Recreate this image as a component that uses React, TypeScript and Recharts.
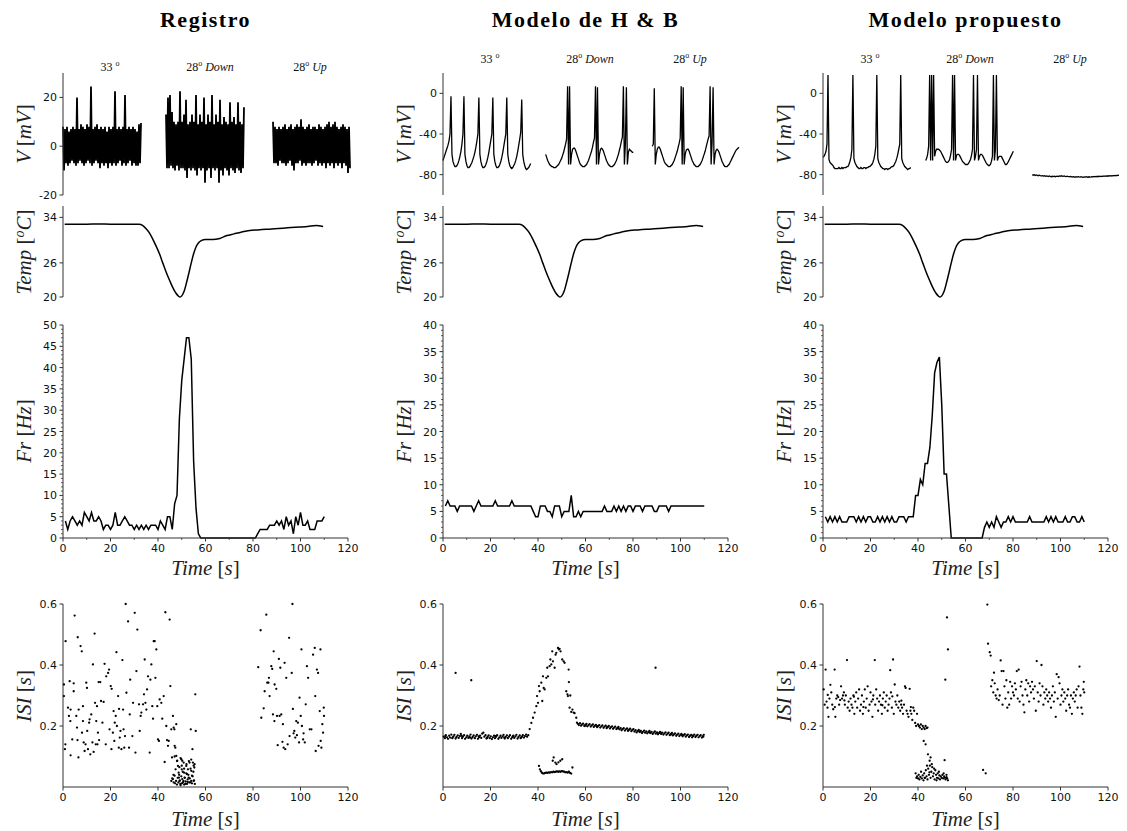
import React from 'react';
import { LineChart, Line, XAxis, YAxis, ScatterChart, Scatter } from 'recharts';

// ---------- datos ----------
// trazas de voltaje: tres ventanas (33º, 28º Down, 28º Up), una muestra por unidad
const traceStarts = [0, 103, 210];

const vRegA = [
  8, -10, 7, -7, 8, -8, 6, -7, 7, -6,
  8, -7, 7, -8, 20, -7, 7, -6, 9, -7,
  8, -8, 7, -7, 9, -6, 8, -7, 24.5, -8,
  7, -7, 8, -6, 9, -7, 7, -9, 8, -7,
  7, -8, 8, -7, 6, -9, 8, -7, 7, -8,
  8, -7, 22.5, -8, 7, -7, 8, -6, 7, -8,
  8, -7, 21, -8, 7, -7, 8, -6, 7, -8,
  8, -7, 7, -8, 6, -8, 9, -7, 9.5,
];
const vRegB = [
  13, -9, 20, -9, 21, -8, 14, -9, 10, -10,
  9, -8, 10, -10, 22.5, -9, 10, -9, 13, -10,
  19, -13, 9, -9, 10, -10, 13, -9, 10, -10,
  21, -12, 9, -9, 13, -10, 10, -9, 20, -15,
  9, -10, 13, -9, 10, -13, 21, -9, 9, -10,
  13, -9, 10, -15, 19, -10, 9, -12, 12, -9,
  10, -10, 9, -12, 18, -9, 10, -10, 12, -11,
  9, -9, 18, -10, 10, -11, 9, -9, 16,
];
const vRegC = [
  10, -7, 8, -7, 7, -8, 8, -6, 7, -7,
  8, -7, 9, -8, 7, -7, 8, -6, 9, -8,
  7, -10, 8, -7, 9, -7, 8, -6, 11, -8,
  8, -7, 7, -8, 8, -7, 9, -7, 7, -8,
  8, -7, 8, -6, 7, -8, 9, -7, 8, -8,
  7, -7, 8, -9, 9, -7, 10, -8, 8, -7,
  9, -9, 10, -7, 8, -8, 7, -7, 8, -9,
  9, -7, 8, -8, 7, -11, 8, -9,
];

const vHbA = [
  -66, -63, -60, -57, -54, -51, -47, -40, -3, -60,
  -67, -70, -72, -72, -71, -69, -66, -62, -57, -50,
  -40, -3, -60, -67, -71, -73, -73, -72, -70, -68,
  -65, -62, -58, -53, -47, -40, -4, -60, -67, -71,
  -73, -73, -72, -70, -67, -63, -58, -52, -46, -40,
  -4, -60, -67, -71, -73, -73, -72, -70, -67, -63,
  -58, -52, -46, -40, -4, -60, -67, -71, -73, -74,
  -73, -71, -69, -66, -62, -57, -51, -45, -38, -6,
  -60, -67, -71, -74, -75, -74, -73, -71, -69,
];
const vHbB = [
  -60, -63, -66, -68, -70, -71, -72, -72, -73, -73,
  -73, -72, -71, -70, -68, -66, -64, -61, -58, -54,
  -50, -45, 7, -70, 7, -70, -60, -55, -54, -54,
  -56, -59, -62, -65, -68, -70, -71, -72, -72, -72,
  -71, -70, -68, -66, -63, -60, -57, -53, -48, -44,
  7, -70, 6, -70, -60, -55, -54, -55, -57, -60,
  -63, -66, -68, -70, -71, -72, -72, -72, -71, -70,
  -68, -66, -63, -60, -56, -52, -47, -43, 7, -70,
  -50, 6, -70, -58, -55, -56, -57, -58, -58,
];
const vHbC = [
  -52, -50, 5, -70, -60, -55, -53, -53, -55, -58,
  -61, -64, -67, -69, -70, -71, -72, -72, -72, -71,
  -70, -68, -66, -63, -60, -57, -53, -49, -44, 7,
  -70, 6, -70, -60, -56, -55, -55, -57, -60, -63,
  -66, -68, -70, -71, -72, -72, -72, -71, -70, -68,
  -66, -63, -60, -57, -53, -49, -45, -42, 7, -70,
  -48, 6, -70, -60, -56, -55, -56, -58, -61, -64,
  -67, -69, -71, -72, -72, -72, -71, -70, -68, -66,
  -64, -62, -60, -58, -56, -55, -54, -53,
];

const vPropA = [
  -63, -62, -60, -57, -50, 18, -65, -68, -69, -70,
  -71, -73, -74, -74, -74, -74, -73, -74, -74, -73,
  -74, -73, -73, -73, -72, -72, -70, -67, -63, -55,
  18, -64, -68, -70, -72, -73, -74, -74, -73, -74,
  -74, -73, -73, -74, -73, -73, -72, -72, -71, -70,
  -68, -65, -60, -52, 18, -64, -68, -70, -72, -73,
  -74, -74, -75, -74, -74, -75, -74, -74, -73, -72,
  -72, -71, -69, -67, -64, -60, -55, -50, 18, -64,
  -68, -70, -72, -73, -74, -75, -74, -74, -73,
];
const vPropB = [
  -66, -64, -60, -52, 18, -66, 18, -66, 18, -62,
  -57, -55, -55, -55, -56, -57, -59, -61, -63, -65,
  -67, -68, -68, -67, -65, -61, -55, 18, -66, 18,
  -66, -61, -60, -60, -61, -63, -65, -67, -68, -69,
  -70, -70, -70, -69, -67, -65, -61, -55, 18, -66,
  -62, -55, 18, -66, -62, -60, -60, -61, -63, -65,
  -67, -69, -70, -71, -71, -70, -67, -62, 18, -66,
  -55, 18, -66, -63, -62, -62, -62, -64, -66, -68,
  -70, -70, -69, -67, -65, -63, -61, -59, -57,
];
const vPropC = [
  -80, -80.5, -80, -80.8, -80.3, -80.6, -81, -80.5, -80.9, -81.2,
  -81, -81.4, -81, -81.6, -81.2, -81.5, -81.8, -81.3, -81.7, -82,
  -81.6, -81.9, -81.5, -82, -81.7, -81.4, -81.8, -81.2, -81.6, -81.1,
  -81.4, -81.7, -81.2, -81.6, -81.9, -81.5, -81.8, -82.1, -81.7, -82,
  -82.3, -81.9, -82.2, -82.5, -82, -82.3, -81.9, -82.2, -82.4, -82,
  -82.3, -82.6, -82.2, -82.4, -82, -82.3, -82.5, -82.1, -82.4, -82.2,
  -81.9, -82.2, -81.8, -82.1, -81.7, -82, -81.6, -81.9, -81.5, -81.8,
  -81.4, -81.7, -81.3, -81.6, -81.2, -81.5, -81.1, -81.4, -81, -81.3,
  -80.9, -81.2, -80.8, -81.1, -80.7, -81, -80.6, -80.8,
];

// temperatura [s, ºC] (misma rampa en las tres columnas)
const tempCurve: [number, number][] = [
  [0.7, 32.8], [5, 32.8], [10, 32.8], [15, 32.85], [20, 32.8], [25, 32.8], [30, 32.8], [32, 32.8],
  [33.5, 32.6], [35, 32], [36.5, 31.2], [38, 30], [40.7, 27.5], [42, 26], [43.5, 24.3], [45, 22.8],
  [46.3, 21.6], [47.5, 20.7], [48.5, 20.2], [49.3, 20], [50, 20.2], [51, 21], [52, 22.5], [53, 24.2],
  [54, 26], [55, 27.6], [56, 28.8], [57, 29.5], [58.2, 29.9], [60, 30.1], [63, 30.1], [66, 30.3],
  [69, 30.8], [72, 31.1], [75, 31.4], [78.6, 31.7], [82, 31.8], [85.6, 31.9], [89, 32], [92.6, 32.1],
  [96, 32.2], [99.6, 32.3], [103, 32.4], [106.7, 32.55], [108.5, 32.5], [109.5, 32.4],
];

// frecuencia de disparo, un valor por segundo (t = 1..110)
const frSeconds = Array.from({ length: 110 }, (_, i) => i + 1);
const frReg = [
  4, 2, 4, 5, 4, 3, 4, 3, 6, 5,
  4, 6, 4, 4, 5, 4, 2, 3, 3, 2,
  3, 6, 3, 3, 4, 5, 4, 3, 3, 2,
  3, 2, 3, 2, 3, 2, 3, 3, 3, 2,
  4, 3, 2, 5, 5, 2, 8, 10, 28, 37,
  42, 47, 47, 42, 18, 7, 1, 0, 0, 0,
  0, 0, 0, 0, 0, 0, 0, 0, 0, 0,
  0, 0, 0, 0, 0, 0, 0, 0, 0, 0,
  0, 1, 2, 2, 2, 2, 3, 3, 3, 4,
  3, 4, 2, 5, 3, 4, 1, 5, 3, 6,
  3, 3, 4, 2, 2, 2, 4, 4, 4, 5,
];
const frHb = [
  6, 7, 6, 6, 6, 5, 6, 6, 6, 6,
  6, 6, 5, 6, 7, 6, 6, 6, 6, 6,
  6, 7, 6, 6, 6, 6, 6, 6, 7, 6,
  6, 6, 6, 6, 6, 6, 6, 5, 4, 4,
  6, 6, 6, 5, 5, 4, 6, 6, 6, 4,
  5, 5, 5, 8, 4, 4, 5, 4, 5, 5,
  5, 5, 5, 5, 5, 5, 5, 6, 5, 5,
  5, 6, 5, 6, 5, 6, 5, 6, 6, 5,
  6, 6, 6, 5, 6, 6, 6, 6, 5, 5,
  6, 6, 6, 6, 5, 6, 6, 6, 6, 6,
  6, 6, 6, 6, 6, 6, 6, 6, 6, 6,
];
const frProp = [
  4, 3, 4, 3, 4, 3, 4, 3, 3, 3,
  4, 4, 4, 3, 4, 3, 4, 3, 4, 4,
  3, 3, 4, 3, 4, 3, 4, 3, 4, 3,
  3, 4, 4, 4, 3, 4, 4, 4, 8, 8,
  11, 10, 14, 14, 17, 23, 31, 33, 34, 25,
  12, 12, 6, 0, 0, 0, 0, 0, 0, 0,
  0, 0, 0, 0, 0, 0, 0, 2, 3, 2,
  3, 2, 4, 3, 2, 3, 3, 4, 3, 4,
  3, 3, 3, 3, 3, 3, 4, 3, 3, 3,
  3, 3, 3, 4, 3, 4, 3, 4, 3, 3,
  3, 4, 3, 3, 4, 4, 3, 3, 4, 3,
];

// intervalos entre espigas [s, ISI]
const isiReg: [number, number][] = [
  [0.4, 0.336], [0.4, 0.298], [1.1, 0.478], [1.0, 0.14], [0.8, 0.124], [2.1, 0.26], [2.5, 0.233], [2.8, 0.347],
  [3.1, 0.216], [3.2, 0.254], [3.2, 0.104], [3.9, 0.156], [4.5, 0.314], [4.5, 0.34], [4.9, 0.562], [5.6, 0.233],
  [5.9, 0.195], [6.1, 0.154], [6.5, 0.097], [6.2, 0.491], [6.6, 0.254], [7.4, 0.462], [7.9, 0.445], [8.0, 0.178],
  [8.4, 0.216], [8.4, 0.265], [8.7, 0.146], [9.1, 0.118], [9.5, 0.14], [9.8, 0.342], [10.1, 0.325], [10.2, 0.184],
  [10.5, 0.124], [11.0, 0.211], [11.2, 0.222], [11.5, 0.107], [11.9, 0.238], [12.4, 0.146], [12.6, 0.402],
  [12.9, 0.115], [13.3, 0.503], [13.5, 0.276], [13.8, 0.14], [14.0, 0.216], [14.3, 0.265], [14.5, 0.14],
  [14.7, 0.178], [15.0, 0.344], [15.2, 0.154], [15.7, 0.344], [16.0, 0.282], [16.6, 0.211], [17.1, 0.279],
  [17.5, 0.404], [18.0, 0.14], [18.2, 0.363], [19.0, 0.374], [19.4, 0.385], [19.6, 0.189], [20.1, 0.331],
  [20.4, 0.124], [20.5, 0.322], [21.0, 0.178], [21.3, 0.249], [21.6, 0.151], [21.8, 0.211], [22.2, 0.233],
  [22.5, 0.442], [22.7, 0.2], [23.2, 0.298], [23.5, 0.129], [23.6, 0.256], [23.9, 0.162], [24.2, 0.184],
  [24.6, 0.124], [25.0, 0.416], [25.3, 0.254], [25.5, 0.189], [25.8, 0.129], [26.1, 0.167], [26.4, 0.6],
  [26.7, 0.309], [27.4, 0.543], [27.8, 0.129], [28.1, 0.238], [28.3, 0.352], [29.2, 0.167], [29.5, 0.276],
  [30.2, 0.571], [30.5, 0.113], [30.9, 0.38], [31.3, 0.516], [32.0, 0.271], [32.3, 0.184], [32.7, 0.233],
  [33.0, 0.244], [33.7, 0.271], [34.1, 0.304], [34.4, 0.418], [34.7, 0.276], [35.1, 0.254], [35.4, 0.32],
  [35.8, 0.363], [36.5, 0.113], [36.8, 0.352], [37.2, 0.402], [37.6, 0.265], [37.9, 0.224], [38.2, 0.478],
  [38.6, 0.478], [38.9, 0.358], [39.3, 0.451], [39.7, 0.265], [40.0, 0.156], [40.4, 0.151], [40.7, 0.287],
  [41.4, 0.276], [41.8, 0.224], [42.4, 0.298], [42.8, 0.082], [43.1, 0.573], [43.5, 0.2], [43.8, 0.154],
  [44.2, 0.135], [44.5, 0.151], [44.9, 0.549], [45.2, 0.331], [45.6, 0.189], [45.9, 0.097], [46.3, 0.233],
  [46.6, 0.195], [46.9, 0.189], [47.0, 0.135], [47.3, 0.129], [47.7, 0.206], [53.8, 0.189], [55.7, 0.304],
  [55.9, 0.184], [54.5, 0.124],
  [45.6, 0.02], [46.3, 0.026], [46.6, 0.015], [47.0, 0.037], [47.4, 0.058], [47.7, 0.102], [48.1, 0.086],
  [48.4, 0.069], [48.7, 0.047], [48.8, 0.031], [49.1, 0.02], [49.4, 0.01], [49.8, 0.091], [50.0, 0.058],
  [50.2, 0.026], [50.5, 0.015], [50.8, 0.08], [51.0, 0.047], [51.2, 0.031], [51.5, 0.01], [51.9, 0.069],
  [52.2, 0.042], [52.4, 0.017], [52.6, 0.058], [52.9, 0.031], [53.3, 0.08], [53.6, 0.015], [54.0, 0.053],
  [54.3, 0.037], [54.7, 0.08], [55.0, 0.02], [55.3, 0.064], [55.4, 0.075], [50.2, 0.086],
  [47.2, 0.012], [47.6, 0.02], [48.0, 0.008], [48.3, 0.03], [48.6, 0.015], [48.9, 0.04], [49.2, 0.022],
  [49.5, 0.006], [49.8, 0.035], [50.1, 0.012], [50.4, 0.05], [50.7, 0.02], [51.0, 0.008], [51.3, 0.03],
  [51.6, 0.018], [51.9, 0.045], [52.2, 0.01], [52.5, 0.025], [52.8, 0.04], [53.1, 0.015], [53.4, 0.028],
  [53.7, 0.06], [54.0, 0.02], [54.3, 0.012], [54.6, 0.035], [54.9, 0.05], [55.2, 0.022], [55.5, 0.01],
  [49.0, 0.065], [50.0, 0.07], [51.0, 0.06], [52.0, 0.075], [53.0, 0.085], [54.0, 0.09], [55.0, 0.07],
  [48.0, 0.085], [47.0, 0.1], [49.5, 0.095], [46.5, 0.04], [46.0, 0.028],
  [82.2, 0.393], [83.2, 0.514], [83.5, 0.227], [84.5, 0.258], [84.9, 0.314], [85.6, 0.565], [86.0, 0.342],
  [86.5, 0.342], [86.7, 0.358], [87.0, 0.298], [87.7, 0.396], [88.1, 0.387], [88.4, 0.238], [88.7, 0.445],
  [89.0, 0.216], [89.1, 0.336], [89.8, 0.322], [90.1, 0.233], [90.4, 0.137], [90.9, 0.42], [91.2, 0.233],
  [91.5, 0.391], [91.9, 0.238], [92.4, 0.148], [92.6, 0.206], [92.9, 0.129], [93.3, 0.407], [93.6, 0.124],
  [94.0, 0.358], [94.6, 0.14], [95.2, 0.489], [95.4, 0.167], [96.3, 0.374], [96.6, 0.6], [96.8, 0.256],
  [97.1, 0.176], [97.4, 0.184], [97.8, 0.162], [98.2, 0.216], [98.5, 0.17], [98.9, 0.211], [99.4, 0.146],
  [99.6, 0.293], [100.1, 0.233], [100.4, 0.451], [100.6, 0.2], [101.1, 0.156], [101.3, 0.176], [101.8, 0.146],
  [102.2, 0.271], [102.7, 0.396], [103.2, 0.358], [103.9, 0.189], [104.6, 0.189], [105.3, 0.434], [106.0, 0.456],
  [106.2, 0.298], [106.4, 0.118], [106.9, 0.385], [107.4, 0.374], [107.6, 0.135], [108.1, 0.249], [108.4, 0.451],
  [108.5, 0.151], [108.8, 0.129], [109.2, 0.206], [109.5, 0.178], [109.8, 0.26], [109.9, 0.233],
];

const isiHb: [number, number][] = [
  [0.3, 0.165], [0.8, 0.16], [1.2, 0.17], [1.7, 0.163], [2.1, 0.158], [2.6, 0.168], [3.0, 0.162], [3.5, 0.172],
  [3.9, 0.16], [4.4, 0.166], [4.8, 0.171], [5.3, 0.159], [5.7, 0.164], [6.2, 0.169], [6.6, 0.161], [7.1, 0.167],
  [7.5, 0.174], [8.0, 0.16], [8.4, 0.165], [8.9, 0.17], [9.3, 0.158], [9.8, 0.163], [10.2, 0.168], [10.7, 0.161],
  [11.1, 0.166], [11.6, 0.172], [12.0, 0.159], [12.5, 0.164], [12.9, 0.169], [13.4, 0.16], [13.8, 0.166],
  [14.3, 0.171], [14.7, 0.158], [15.2, 0.163], [15.6, 0.168], [16.1, 0.161], [16.5, 0.175], [17.0, 0.178],
  [17.4, 0.165], [17.9, 0.17], [18.3, 0.159], [18.8, 0.164], [19.2, 0.169], [19.7, 0.16], [20.1, 0.166],
  [20.6, 0.157], [21.0, 0.163], [21.5, 0.168], [21.9, 0.16], [22.4, 0.165], [22.8, 0.17], [23.3, 0.158],
  [23.7, 0.163], [24.2, 0.168], [24.6, 0.161], [25.1, 0.166], [25.5, 0.171], [26.0, 0.159], [26.4, 0.164],
  [26.9, 0.169], [27.3, 0.16], [27.8, 0.165], [28.2, 0.17], [28.7, 0.158], [29.1, 0.163], [29.6, 0.168],
  [30.0, 0.161], [30.5, 0.166], [30.9, 0.171], [31.4, 0.159], [31.8, 0.164], [32.3, 0.169], [32.7, 0.16],
  [33.2, 0.165], [33.6, 0.17], [34.1, 0.162], [34.5, 0.167], [35.0, 0.172], [35.4, 0.165], [35.9, 0.17],
  [1.0, 0.167], [4.1, 0.163], [7.8, 0.168], [11.4, 0.162], [15.0, 0.166], [18.6, 0.161], [22.1, 0.167],
  [25.8, 0.162], [29.4, 0.166], [33.0, 0.163],
  [36.5, 0.19], [37.2, 0.21], [37.9, 0.227], [38.6, 0.244], [39.3, 0.265], [39.6, 0.298], [40.0, 0.276],
  [40.4, 0.331], [40.7, 0.314], [41.4, 0.342], [41.8, 0.282], [42.1, 0.363], [42.4, 0.325], [42.8, 0.32],
  [43.5, 0.358], [43.9, 0.391], [44.2, 0.363], [44.9, 0.396], [45.2, 0.418], [45.6, 0.402], [46.0, 0.445],
  [46.3, 0.412], [47.0, 0.391], [47.4, 0.434], [47.7, 0.44], [48.4, 0.456], [48.8, 0.451], [49.1, 0.453],
  [49.5, 0.445], [50.2, 0.418], [50.8, 0.412], [51.2, 0.407], [51.9, 0.314], [52.4, 0.304], [52.9, 0.385],
  [53.0, 0.344], [52.6, 0.298], [53.6, 0.3], [53.3, 0.26], [54.0, 0.246], [54.5, 0.254], [55.0, 0.244],
  [55.4, 0.242], [56.1, 0.227], [56.4, 0.211],
  [56.8, 0.207], [57.2, 0.203], [57.7, 0.209], [58.1, 0.201], [58.6, 0.205], [59.0, 0.208], [59.5, 0.2],
  [59.9, 0.204], [60.4, 0.207], [60.8, 0.199], [61.3, 0.203], [61.7, 0.206], [62.2, 0.198], [62.6, 0.202],
  [63.1, 0.205], [63.5, 0.197], [64.0, 0.201], [64.4, 0.204], [64.9, 0.196], [65.3, 0.2], [65.8, 0.203],
  [66.2, 0.195], [66.7, 0.199], [67.1, 0.202], [67.6, 0.194], [68.0, 0.198], [68.5, 0.201], [68.9, 0.193],
  [69.4, 0.197], [69.8, 0.2], [70.3, 0.192], [70.7, 0.196], [71.2, 0.199], [71.6, 0.191], [72.1, 0.195],
  [72.5, 0.198], [73.0, 0.19], [73.4, 0.194], [73.9, 0.197], [74.3, 0.189], [74.8, 0.193], [75.2, 0.186],
  [75.7, 0.19], [76.1, 0.193], [76.6, 0.185], [77.0, 0.189], [77.5, 0.192], [77.9, 0.184], [78.4, 0.188],
  [78.8, 0.191], [79.3, 0.183], [79.7, 0.187], [80.2, 0.19], [80.6, 0.182], [81.1, 0.186], [81.5, 0.179],
  [82.0, 0.183], [82.4, 0.187], [82.9, 0.18], [83.3, 0.184], [83.8, 0.177], [84.2, 0.181], [84.7, 0.185],
  [85.1, 0.178], [85.6, 0.182], [86.0, 0.176], [86.5, 0.18], [86.9, 0.184], [87.4, 0.177], [87.8, 0.181],
  [88.3, 0.174], [88.7, 0.178], [89.2, 0.182], [89.6, 0.175], [90.1, 0.179], [90.5, 0.173], [91.0, 0.177],
  [91.4, 0.181], [91.9, 0.174], [92.3, 0.178], [92.8, 0.172], [93.2, 0.176], [93.7, 0.179], [94.1, 0.171],
  [94.6, 0.175], [95.0, 0.178], [95.5, 0.17], [95.9, 0.174], [96.4, 0.177], [96.8, 0.169], [97.3, 0.173],
  [97.7, 0.176], [98.2, 0.168], [98.6, 0.172], [99.1, 0.175], [99.5, 0.167], [100.0, 0.171], [100.4, 0.174],
  [100.9, 0.166], [101.3, 0.17], [101.8, 0.173], [102.2, 0.165], [102.7, 0.169], [103.1, 0.172], [103.6, 0.164],
  [104.0, 0.168], [104.5, 0.171], [104.9, 0.163], [105.4, 0.167], [105.8, 0.172], [106.3, 0.164], [106.7, 0.168],
  [107.2, 0.171], [107.6, 0.163], [108.1, 0.167], [108.5, 0.17], [109.0, 0.162], [109.4, 0.166], [109.8, 0.171],
  [60.1, 0.201], [64.7, 0.199], [69.1, 0.196], [73.7, 0.192], [78.1, 0.187], [82.7, 0.182], [87.1, 0.178],
  [91.7, 0.176], [96.1, 0.173], [100.7, 0.17], [105.1, 0.168], [109.6, 0.165],
  [40.4, 0.069], [40.8, 0.058], [41.2, 0.052], [41.6, 0.047], [42.0, 0.045], [42.5, 0.044], [43.0, 0.046],
  [43.5, 0.047], [44.0, 0.046], [44.5, 0.048], [45.0, 0.047], [45.5, 0.049], [46.0, 0.048], [46.5, 0.05],
  [47.0, 0.049], [47.5, 0.05], [48.0, 0.051], [48.5, 0.05], [49.0, 0.051], [49.5, 0.05], [50.0, 0.052],
  [50.5, 0.051], [51.0, 0.05], [51.5, 0.048], [52.0, 0.049], [52.5, 0.047], [53.0, 0.05], [53.5, 0.046],
  [54.0, 0.044], [54.5, 0.064], [46.6, 0.097], [46.2, 0.086], [47.3, 0.08], [47.8, 0.075], [48.6, 0.081],
  [49.4, 0.086], [50.2, 0.091],
  [5.3, 0.374], [11.9, 0.35], [89.5, 0.391],
];

const isiProp: [number, number][] = [
  [0.3, 0.32], [0.7, 0.27], [1.1, 0.385], [1.5, 0.28], [1.9, 0.26], [2.3, 0.23], [2.7, 0.29], [3.1, 0.335],
  [3.5, 0.31], [3.9, 0.27], [4.3, 0.255], [4.9, 0.385], [5.2, 0.23], [5.6, 0.29], [6.0, 0.3], [6.4, 0.295],
  [6.8, 0.27], [7.2, 0.285], [7.6, 0.33], [8.0, 0.29], [8.4, 0.3], [8.8, 0.31], [9.2, 0.27], [9.6, 0.3],
  [10.1, 0.416], [10.4, 0.26], [10.8, 0.28], [11.2, 0.25], [11.6, 0.29], [12.0, 0.27], [12.4, 0.26], [12.8, 0.3],
  [13.2, 0.24], [13.6, 0.28], [14.0, 0.31], [14.4, 0.26], [14.8, 0.29], [15.2, 0.32], [15.6, 0.25], [16.0, 0.27],
  [16.4, 0.3], [16.8, 0.24], [17.2, 0.28], [17.6, 0.32], [18.0, 0.26], [18.4, 0.29], [18.8, 0.33], [19.2, 0.25],
  [19.6, 0.27], [20.0, 0.31], [20.4, 0.28], [20.8, 0.23], [21.2, 0.3], [21.8, 0.416], [22.0, 0.27], [22.4, 0.32],
  [22.8, 0.29], [23.2, 0.25], [23.6, 0.28], [24.0, 0.3], [24.4, 0.27], [24.8, 0.24], [25.2, 0.29], [25.6, 0.31],
  [26.0, 0.26], [26.4, 0.28], [26.8, 0.3], [27.2, 0.25], [27.6, 0.27], [28.0, 0.29], [28.3, 0.383], [28.6, 0.31],
  [29.0, 0.26], [29.5, 0.418], [29.8, 0.24], [30.2, 0.336], [30.5, 0.28], [30.9, 0.27], [31.3, 0.3], [31.7, 0.26],
  [32.1, 0.28], [32.5, 0.25], [32.9, 0.27], [33.3, 0.26], [33.7, 0.24], [34.1, 0.27], [34.5, 0.33], [34.8, 0.325],
  [35.2, 0.25], [35.6, 0.24], [36.0, 0.23], [36.5, 0.322], [36.8, 0.25], [37.2, 0.24], [37.6, 0.22], [38.0, 0.26],
  [38.4, 0.25], [38.8, 0.21], [39.2, 0.2], [39.6, 0.24], [40.0, 0.205], [40.4, 0.2], [40.8, 0.195], [41.2, 0.205],
  [41.6, 0.19], [42.0, 0.2], [42.4, 0.195], [42.8, 0.19], [43.2, 0.2], [43.6, 0.193], [44.0, 0.195],
  [2.0, 0.302], [5.0, 0.262], [9.0, 0.284], [13.0, 0.296], [17.0, 0.262], [21.0, 0.287], [25.0, 0.268],
  [29.2, 0.297], [33.0, 0.283], [37.0, 0.262],
  [42.4, 0.151], [43.2, 0.14], [44.2, 0.107], [44.9, 0.086], [45.3, 0.097],
  [39.0, 0.045], [39.3, 0.03], [39.6, 0.035], [40.0, 0.028], [40.3, 0.04], [40.6, 0.025], [41.0, 0.033],
  [41.3, 0.05], [41.6, 0.028], [42.0, 0.038], [42.3, 0.022], [42.6, 0.045], [43.0, 0.03], [43.3, 0.055],
  [43.6, 0.035], [44.0, 0.025], [44.3, 0.06], [44.6, 0.04], [45.0, 0.07], [45.3, 0.03], [45.6, 0.05],
  [46.0, 0.065], [46.3, 0.035], [46.6, 0.045], [47.0, 0.025], [47.3, 0.055], [47.6, 0.04], [48.0, 0.03],
  [48.3, 0.045], [48.6, 0.028], [49.0, 0.038], [49.3, 0.025], [49.6, 0.035], [50.0, 0.03], [50.3, 0.04],
  [50.6, 0.028], [51.0, 0.035], [51.3, 0.03], [51.6, 0.025], [52.0, 0.032], [52.3, 0.028], [52.6, 0.022],
  [43.8, 0.07], [45.8, 0.075], [44.8, 0.048], [46.8, 0.06], [48.8, 0.05], [50.8, 0.045], [52.0, 0.04],
  [42.8, 0.03], [47.8, 0.022],
  [51.2, 0.088], [51.5, 0.352], [52.2, 0.556], [52.6, 0.451], [67.4, 0.056], [68.5, 0.045], [69.2, 0.598],
  [69.5, 0.47], [70.2, 0.442], [70.6, 0.431],
  [70.8, 0.33], [71.3, 0.35], [71.7, 0.31], [72.0, 0.375], [72.3, 0.34], [72.7, 0.3], [73.1, 0.29], [73.5, 0.32],
  [74.0, 0.285], [74.4, 0.3], [74.8, 0.415], [75.2, 0.38], [75.6, 0.27], [76.0, 0.38], [76.4, 0.33], [76.8, 0.29],
  [77.2, 0.35], [77.6, 0.26], [78.0, 0.31], [78.4, 0.27], [78.8, 0.345], [79.2, 0.29], [79.6, 0.33], [80.0, 0.31],
  [80.4, 0.3], [80.8, 0.34], [81.2, 0.32], [81.6, 0.38], [82.0, 0.29], [82.4, 0.385], [82.8, 0.28], [83.2, 0.33],
  [83.6, 0.345], [84.0, 0.3], [84.4, 0.27], [84.8, 0.245], [85.2, 0.32], [85.6, 0.35], [86.0, 0.3], [86.4, 0.34],
  [86.8, 0.28], [87.2, 0.33], [87.6, 0.31], [88.0, 0.345], [88.4, 0.32], [88.8, 0.29], [89.2, 0.33], [89.6, 0.25],
  [90.0, 0.413], [90.4, 0.31], [90.8, 0.28], [91.2, 0.34], [91.6, 0.3], [92.0, 0.4], [92.4, 0.33], [92.8, 0.27],
  [93.2, 0.31], [93.6, 0.29], [94.0, 0.32], [94.4, 0.3], [94.8, 0.28], [95.2, 0.31], [95.6, 0.29], [96.0, 0.26],
  [96.4, 0.3], [96.8, 0.33], [97.2, 0.28], [97.6, 0.31], [98.0, 0.23], [98.4, 0.37], [98.8, 0.29], [99.2, 0.36],
  [99.6, 0.34], [100.0, 0.27], [100.4, 0.3], [100.8, 0.32], [101.2, 0.28], [101.6, 0.31], [102.0, 0.29],
  [102.4, 0.25], [102.8, 0.3], [103.2, 0.32], [103.6, 0.27], [104.0, 0.26], [104.4, 0.3], [104.8, 0.24],
  [105.2, 0.29], [105.6, 0.31], [106.0, 0.28], [106.4, 0.3], [106.8, 0.32], [107.2, 0.26], [107.6, 0.33],
  [108.0, 0.395], [108.4, 0.3], [108.8, 0.26], [109.2, 0.24], [109.6, 0.32], [110.0, 0.31], [109.8, 0.345],
];

// marcas de los ejes
const vTicksReg = [-20, 0, 20];
const vTicksModel = [-80, -40, 0];
const tempTicks = [20, 26, 34];
const timeTicks = [0, 20, 40, 60, 80, 100, 120];
const timeTicksMinor = [0, 10, 20, 30, 40, 50, 60, 70, 80, 90, 100, 110, 120];
const frTicksReg = Array.from({ length: 51 }, (_, i) => i);
const frTicksModel = Array.from({ length: 41 }, (_, i) => i);
const isiTicks = [0.2, 0.4, 0.6];

// ---------- estilo ----------
const INK = '#111';
const AXIS = '#333';
const SANS = '"DejaVu Sans", sans-serif';
const SERIF = '"Liberation Serif", "DejaVu Serif", serif';
const COLS = [63, 443, 823];
const YW = 50;
const MT = 6;
const MR = 14;
const XH = 30;

const toTrace = (segs: number[][]) => {
  const out: { x: number; v: number | null }[] = [];
  segs.forEach((s, k) => {
    s.forEach((v, i) => out.push({ x: traceStarts[k] + i, v }));
    out.push({ x: traceStarts[k] + s.length, v: null });
  });
  return out;
};
const toFr = (vals: number[]) => vals.map((fr, i) => ({ t: frSeconds[i], fr }));
const toPairs = (rows: [number, number][], key: string) => rows.map(([t, v]) => ({ t, [key]: v }));

function LeftTick(props: any) {
  const { x, y, payload, every } = props;
  const v = payload.value;
  const major = !every || Math.abs(v % every) < 1e-9;
  return (
    <g>
      <line x1={x - (major ? 3.5 : 2)} x2={x} y1={y} y2={y} stroke={AXIS} strokeWidth={major ? 1 : 0.8} />
      {major && (
        <text x={x - 6} y={y + 4} textAnchor="end" fontSize={11} fontFamily={SANS} fill={INK}>
          {v}
        </text>
      )}
    </g>
  );
}

function BottomTick(props: any) {
  const { x, y, payload, every } = props;
  const v = payload.value;
  const major = !every || Math.abs(v % every) < 1e-9;
  return (
    <g>
      <line x1={x} x2={x} y1={y} y2={y + (major ? 3.5 : 2)} stroke={AXIS} strokeWidth={major ? 1 : 0.8} />
      {major && (
        <text x={x} y={y + 14} textAnchor="middle" fontSize={11} fontFamily={SANS} fill={INK}>
          {v}
        </text>
      )}
    </g>
  );
}

const frame = (left: number, top: number, w: number, h: number, withX: boolean) => ({
  style: { position: 'absolute' as const, left: left - YW, top: top - MT },
  width: YW + w + MR,
  height: MT + h + XH,
  margin: { top: MT, right: MR, left: 0, bottom: withX ? 0 : XH },
});

const yAxisCommon = {
  type: 'number' as const,
  width: YW,
  interval: 0 as const,
  tickLine: false,
  tickSize: 0,
  tickMargin: 0,
  axisLine: { stroke: AXIS },
};

function VPanel({ col, segs, domain, ticks, stroke }: { col: number; segs: number[][]; domain: [number, number]; ticks: number[]; stroke: number }) {
  const f = frame(COLS[col], 73, 297, 122, false);
  return (
    <div style={f.style}>
      <LineChart width={f.width} height={f.height} margin={f.margin} data={toTrace(segs)}>
        <XAxis type="number" dataKey="x" domain={[0, 297]} hide />
        <YAxis {...yAxisCommon} domain={domain} ticks={ticks} tick={(p: any) => <LeftTick {...p} />} />
        <Line dataKey="v" stroke="#000" strokeWidth={stroke} dot={false} connectNulls={false} isAnimationActive={false} />
      </LineChart>
    </div>
  );
}

function TempPanel({ col }: { col: number }) {
  const f = frame(COLS[col], 206, 285, 91, false);
  return (
    <div style={f.style}>
      <LineChart width={f.width} height={f.height} margin={f.margin} data={toPairs(tempCurve, 'temp')}>
        <XAxis type="number" dataKey="t" domain={[0, 120]} hide />
        <YAxis {...yAxisCommon} domain={[20, 36]} ticks={tempTicks} tick={(p: any) => <LeftTick {...p} />} />
        <Line type="monotone" dataKey="temp" stroke="#000" strokeWidth={1.5} dot={false} isAnimationActive={false} />
      </LineChart>
    </div>
  );
}

function FrPanel({ col, values, top, ticks }: { col: number; values: number[]; top: number; ticks: number[] }) {
  const f = frame(COLS[col], 325, 285, 213, true);
  return (
    <div style={f.style}>
      <LineChart width={f.width} height={f.height} margin={f.margin} data={toFr(values)}>
        <XAxis
          type="number"
          dataKey="t"
          domain={[0, 120]}
          ticks={timeTicksMinor}
          interval={0}
          height={XH}
          tickLine={false}
          tickSize={0}
          tickMargin={0}
          axisLine={{ stroke: AXIS }}
          tick={(p: any) => <BottomTick {...p} every={20} />}
        />
        <YAxis {...yAxisCommon} domain={[0, top]} ticks={ticks} tick={(p: any) => <LeftTick {...p} every={5} />} />
        <Line dataKey="fr" stroke="#000" strokeWidth={1.5} dot={false} isAnimationActive={false} />
      </LineChart>
    </div>
  );
}

const IsiDot = (p: any) => <circle cx={p.cx} cy={p.cy} r={1.15} fill="#000" />;

function IsiPanel({ col, rows }: { col: number; rows: [number, number][] }) {
  const f = frame(COLS[col], 604, 285, 183, true);
  return (
    <div style={f.style}>
      <ScatterChart width={f.width} height={f.height} margin={f.margin}>
        <XAxis
          type="number"
          dataKey="t"
          domain={[0, 120]}
          ticks={timeTicks}
          interval={0}
          height={XH}
          tickLine={false}
          tickSize={0}
          tickMargin={0}
          axisLine={{ stroke: AXIS }}
          tick={(p: any) => <BottomTick {...p} />}
        />
        <YAxis {...yAxisCommon} dataKey="isi" domain={[0, 0.6]} ticks={isiTicks} tick={(p: any) => <LeftTick {...p} />} />
        <Scatter data={toPairs(rows, 'isi')} shape={IsiDot} isAnimationActive={false} />
      </ScatterChart>
    </div>
  );
}

const it = (s: string) => <tspan fontStyle="italic">{s}</tspan>;
const up = (s: string) => <tspan fontStyle="normal">{s}</tspan>;

function YLabel({ x, y, children }: { x: number; y: number; children: React.ReactNode }) {
  return (
    <text transform={`translate(${x},${y}) rotate(-90)`} textAnchor="middle" fontFamily={SERIF} fontSize={21} fill="#222">
      {children}
    </text>
  );
}

function TimeLabel({ x, y }: { x: number; y: number }) {
  return (
    <text x={x} y={y} textAnchor="middle" fontFamily={SERIF} fontSize={21} fill="#222">
      {it('Time ')}
      {up('[')}
      {it('s')}
      {up(']')}
    </text>
  );
}

function WindowLabels({ col, y }: { col: number; y: number }) {
  const x0 = COLS[col];
  const f = { fontFamily: SERIF, fontSize: 12, fill: '#111' };
  return (
    <g>
      <text x={x0 + 47} y={y} textAnchor="middle" {...f}>
        33 <tspan dy={-5} fontSize={8}>o</tspan>
      </text>
      <text x={x0 + 147} y={y} textAnchor="middle" {...f}>
        28<tspan dy={-5} fontSize={8}>o</tspan>
        <tspan dy={5} fontStyle="italic"> Down</tspan>
      </text>
      <text x={x0 + 247} y={y} textAnchor="middle" {...f}>
        28<tspan dy={-5} fontSize={8}>o</tspan>
        <tspan dy={5} fontStyle="italic"> Up</tspan>
      </text>
    </g>
  );
}

const titles = ['Registro', 'Modelo de H & B', 'Modelo propuesto'];

export default function App() {
  return (
    <div style={{ position: 'absolute', left: 0, top: 0, width: 1127, height: 831, background: '#fff' }}>
      <VPanel col={0} segs={[vRegA, vRegB, vRegC]} domain={[-20, 30]} ticks={vTicksReg} stroke={1.8} />
      <VPanel col={1} segs={[vHbA, vHbB, vHbC]} domain={[-100, 20]} ticks={vTicksModel} stroke={1.3} />
      <VPanel col={2} segs={[vPropA, vPropB, vPropC]} domain={[-100, 20]} ticks={vTicksModel} stroke={1.3} />

      <TempPanel col={0} />
      <TempPanel col={1} />
      <TempPanel col={2} />

      <FrPanel col={0} values={frReg} top={50} ticks={frTicksReg} />
      <FrPanel col={1} values={frHb} top={40} ticks={frTicksModel} />
      <FrPanel col={2} values={frProp} top={40} ticks={frTicksModel} />

      <IsiPanel col={0} rows={isiReg} />
      <IsiPanel col={1} rows={isiHb} />
      <IsiPanel col={2} rows={isiProp} />

      <svg width={1127} height={831} style={{ position: 'absolute', left: 0, top: 0, pointerEvents: 'none' }}>
        {titles.map((t, i) => (
          <text
            key={t}
            x={COLS[i] + 142.5}
            y={27}
            textAnchor="middle"
            fontFamily={SERIF}
            fontWeight="bold"
            fontSize={22}
            letterSpacing={1.5}
            fill="#000"
          >
            {t}
          </text>
        ))}
        <WindowLabels col={0} y={71} />
        <WindowLabels col={1} y={63} />
        <WindowLabels col={2} y={63} />
        {COLS.map((c) => (
          <g key={c}>
            <YLabel x={c - 32} y={134}>
              {it('V ')}
              {up('[')}
              {it('mV')}
              {up(']')}
            </YLabel>
            <YLabel x={c - 32} y={252}>
              {it('Temp ')}
              {up('[')}
              <tspan dy={-7} fontSize={14} fontStyle="italic">o</tspan>
              <tspan dy={7} fontStyle="italic">C</tspan>
              {up(']')}
            </YLabel>
            <YLabel x={c - 32} y={431}>
              {it('Fr ')}
              {up('[')}
              {it('Hz')}
              {up(']')}
            </YLabel>
            <YLabel x={c - 32} y={696}>
              {it('ISI ')}
              {up('[')}
              {it('s')}
              {up(']')}
            </YLabel>
            <TimeLabel x={c + 142.5} y={575} />
            <TimeLabel x={c + 142.5} y={826} />
          </g>
        ))}
      </svg>
    </div>
  );
}
